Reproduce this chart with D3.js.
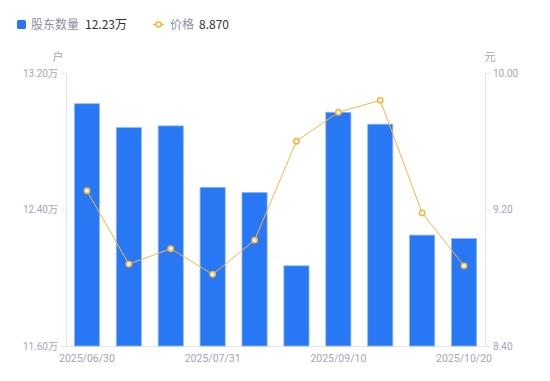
<!DOCTYPE html>
<html>
<head>
<meta charset="utf-8">
<script src="https://cdn.jsdelivr.net/npm/d3@7"></script>
<style>
  body { margin: 0; background: #fff; }
  svg { display: block; font-family: "Noto Sans CJK SC", "Noto Sans", sans-serif; }
</style>
</head>
<body>
<svg id="chart" width="550" height="381"></svg>
<script>
// dates shown on the x axis (only every third one is labelled)
const dates = ['2025/06/30', '2025/07/10', '2025/07/20', '2025/07/31', '2025/08/10',
  '2025/08/31', '2025/09/10', '2025/09/20', '2025/09/30', '2025/10/20']
// shareholder count, in 万 households
const holders = [13.02, 12.88, 12.89, 12.53, 12.50, 12.07, 12.97, 12.90, 12.25, 12.23]
// share price, in 元
const prices = [9.31, 8.88, 8.97, 8.82, 9.02, 9.60, 9.77, 9.84, 9.18, 8.87]
const holderTicks = [11.6, 12.4, 13.2]
const priceTicks = [8.4, 9.2, 10.0]

const margin = { top: 73, right: 65, bottom: 35, left: 66 }
const width = 550 - margin.left - margin.right
const height = 381 - margin.top - margin.bottom

const barColor = '#2878f5'
const lineColor = '#f8b640'
const labelColor = '#a3a6b7'
const axisColor = '#e3e4ea'

const svg = d3.select('#chart')
const chart = svg.append('g').attr('transform', `translate(${margin.left},${margin.top})`)

const x = d3.scaleBand().domain(dates).range([0, width]).paddingInner(0.4).paddingOuter(0.2)
const yLeft = d3.scaleLinear().domain([11.6, 13.2]).range([height, 0])
const yRight = d3.scaleLinear().domain([8.4, 10.0]).range([height, 0])

// left axis
const leftAxis = chart.append('g')
  .call(d3.axisLeft(yLeft).tickValues(holderTicks).tickSize(5).tickPadding(3)
    .tickFormat(d => d3.format('.2f')(d) + '万'))
// right axis
const rightAxis = chart.append('g')
  .attr('transform', `translate(${width},0)`)
  .call(d3.axisRight(yRight).tickValues(priceTicks).tickSize(5).tickPadding(3)
    .tickFormat(d3.format('.2f')))
// bottom axis
const bottomAxis = chart.append('g')
  .attr('transform', `translate(0,${height})`)
  .call(d3.axisBottom(x).tickValues(dates.filter((d, i) => i % 3 === 0)).tickSize(0).tickPadding(9))

;[leftAxis, rightAxis, bottomAxis].forEach(a => {
  a.select('.domain').attr('stroke', axisColor)
  a.selectAll('.tick line').attr('stroke', axisColor)
  a.selectAll('.tick text').attr('fill', labelColor).style('font-size', '10px')
    .style('font-family', 'Roboto, "Noto Sans CJK SC", sans-serif')
})
bottomAxis.selectAll('.tick text').style('font-size', '10.5px')

// axis unit titles
chart.append('text').attr('x', -8).attr('y', -12).attr('text-anchor', 'middle')
  .attr('fill', labelColor).style('font-size', '11px').text('户')
chart.append('text').attr('x', width + 5).attr('y', -12).attr('text-anchor', 'middle')
  .attr('fill', labelColor).style('font-size', '11px').text('元')

// bars
chart.selectAll('.bar')
  .data(holders)
  .enter()
  .append('rect')
  .attr('class', 'bar')
  .attr('x', (d, i) => x(dates[i]))
  .attr('width', x.bandwidth())
  .attr('y', d => yLeft(d))
  .attr('height', d => height - yLeft(d))
  .attr('fill', barColor)
  .attr('stroke', '#8fb8f8')
  .attr('stroke-width', 0.8)

// price line
const line = d3.line()
  .x((d, i) => x(dates[i]) + x.bandwidth() / 2)
  .y(d => yRight(d))
chart.append('path')
  .datum(prices)
  .attr('d', line)
  .attr('fill', 'none')
  .attr('stroke', lineColor)
  .attr('stroke-width', 1)

chart.selectAll('.dot')
  .data(prices)
  .enter()
  .append('circle')
  .attr('class', 'dot')
  .attr('cx', (d, i) => x(dates[i]) + x.bandwidth() / 2)
  .attr('cy', d => yRight(d))
  .attr('r', 2.6)
  .attr('fill', '#fff')
  .attr('stroke', lineColor)
  .attr('stroke-width', 1.6)

// legend
const legend = svg.append('g').attr('transform', 'translate(17,18)')
legend.append('rect').attr('width', 9).attr('height', 9).attr('y', 2).attr('rx', 1.5)
  .attr('fill', barColor)
legend.append('text').attr('x', 14).attr('y', 11).attr('fill', '#8c90a2')
  .style('font-size', '12px').text('股东数量')
legend.append('text').attr('x', 68).attr('y', 11).attr('fill', '#333')
  .style('font-size', '12px').text('12.23万')

const lg2 = legend.append('g').attr('transform', 'translate(136,0)')
lg2.append('line').attr('x1', 0).attr('x2', 11).attr('y1', 6.5).attr('y2', 6.5)
  .attr('stroke', lineColor).attr('stroke-width', 1.5)
lg2.append('circle').attr('cx', 5.5).attr('cy', 6.5).attr('r', 2.5)
  .attr('fill', '#fff').attr('stroke', lineColor).attr('stroke-width', 1.6)
lg2.append('text').attr('x', 17).attr('y', 11).attr('fill', '#8c90a2')
  .style('font-size', '12px').text('价格')
lg2.append('text').attr('x', 46).attr('y', 11).attr('fill', '#333')
  .style('font-size', '12px').text('8.870')
</script>
</body>
</html>
